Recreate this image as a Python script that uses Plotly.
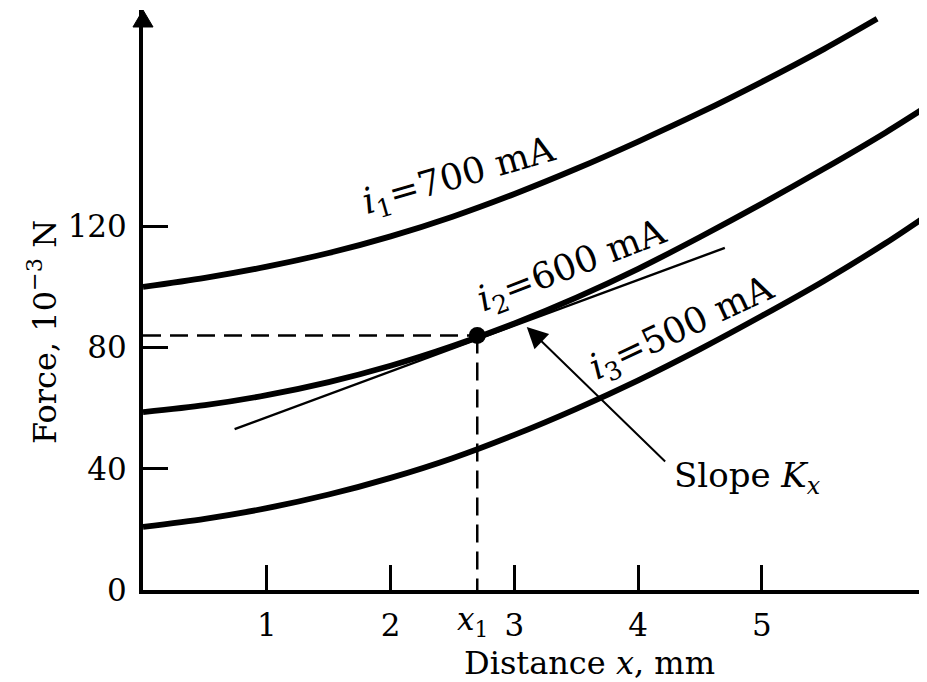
import plotly.graph_objects as go

# ---- data ----
x_700 = [0, 0.5, 1, 1.5, 2, 2.5, 3, 3.5, 4, 4.5, 5, 5.5, 5.93]
f_700 = [100, 103, 106.7, 111.2, 116.7, 123.2, 130.7, 139, 148, 157.5, 167.7, 178.5, 188.5]

x_600 = [0, 0.5, 1, 1.5, 2, 2.5, 3, 3.5, 4, 4.5, 5, 5.5, 6, 6.33]
f_600 = [58.7, 61, 64.3, 68.6, 74, 80.5, 88, 96.5, 106, 116.5, 127.5, 139, 151, 159.5]

x_500 = [0, 0.5, 1, 1.5, 2, 2.5, 3, 3.5, 4, 4.5, 5, 5.5, 6, 6.33]
f_500 = [20.8, 23.5, 27, 31.5, 37, 43.5, 51.2, 59.8, 69.2, 79.5, 90.5, 102, 114.5, 123.5]

tangent_x = [0.74, 4.70]
tangent_f = [53.1, 112.9]

x1 = 2.70
f1 = 84.0

x_ticks = [1, 2, 3, 4, 5]
x_ticktext = ["1", "2", "3", "4", "5"]
y_ticks = [0, 40, 80, 120]
y_ticktext = ["0", "40", "80", "120"]

X_MAX = 6.333
Y_MAX = 191.4

FONT = "DejaVu Serif"
BLACK = "black"

fig = go.Figure()

curve_style = dict(color=BLACK, width=5.8, shape="spline", smoothing=0.8)
for xs, fs, name in [(x_700, f_700, "i1=700 mA"), (x_600, f_600, "i2=600 mA"), (x_500, f_500, "i3=500 mA")]:
    fig.add_trace(go.Scatter(x=xs, y=fs, mode="lines", line=curve_style, name=name,
                             showlegend=False, hoverinfo="skip"))

# tangent line (slope K_x)
fig.add_trace(go.Scatter(x=tangent_x, y=tangent_f, mode="lines",
                         line=dict(color=BLACK, width=2.4), showlegend=False, hoverinfo="skip"))

# dashed guide lines to operating point
fig.add_trace(go.Scatter(x=[0, x1], y=[f1, f1], mode="lines",
                         line=dict(color=BLACK, width=2.5, dash="18px,9px"),
                         showlegend=False, hoverinfo="skip", cliponaxis=False))
fig.add_trace(go.Scatter(x=[x1, x1], y=[f1, -2.5], mode="lines",
                         line=dict(color=BLACK, width=2.5, dash="18px,9px"),
                         showlegend=False, hoverinfo="skip", cliponaxis=False))
# operating point
fig.add_trace(go.Scatter(x=[x1], y=[f1], mode="markers",
                         marker=dict(color=BLACK, size=17),
                         showlegend=False, hoverinfo="skip"))

# curve labels
label_font = dict(family=FONT, size=36, color=BLACK)
for txt, lx, ly, ang in [
    ("<i>i</i><sub>1</sub>=700 mA", 2.56, 136.0, -16),
    ("<i>i</i><sub>2</sub>=600 mA", 3.47, 106.5, -21),
    ("<i>i</i><sub>3</sub>=500 mA", 4.36, 86.0, -25),
]:
    fig.add_annotation(x=lx, y=ly, xref="x", yref="y", text=txt, showarrow=False,
                       textangle=ang, font=label_font, xanchor="center", yanchor="middle")

# slope arrow
fig.add_annotation(x=3.10, y=86.8, ax=4.23, ay=41.9, xref="x", yref="y", axref="x", ayref="y",
                   text="", showarrow=True, arrowhead=2, arrowsize=2.1, arrowwidth=2, arrowcolor=BLACK)
fig.add_annotation(x=4.27, y=37, xref="x", yref="y", text="Slope <i>K</i><sub><i>x</i></sub>",
                   showarrow=False, xanchor="left", yanchor="middle",
                   font=dict(family=FONT, size=34, color=BLACK))

# x1 label on the axis
fig.add_annotation(x=x1, y=0, xref="x", yref="paper", text="<i>x</i><sub>1</sub>",
                   showarrow=False, xanchor="center", yanchor="top", yshift=-9, xshift=-5,
                   font=dict(family=FONT, size=31, color=BLACK))

# axis titles (placed off-centre as in the reference)
fig.add_annotation(x=0.570, y=0, xref="paper", yref="paper", text="Distance <i>x</i>, mm",
                   showarrow=False, xanchor="center", yanchor="middle", yshift=-73,
                   font=dict(family=FONT, size=32, color=BLACK))
fig.add_annotation(x=0, y=0.445, xref="paper", yref="paper", text="Force, 10<sup>−3</sup> N",
                   showarrow=False, xanchor="center", yanchor="middle", xshift=-101, textangle=-90,
                   font=dict(family=FONT, size=32, color=BLACK))

# arrowhead on the force axis
fig.add_shape(type="path", xref="paper", yref="paper",
              path="M -0.0128,0.9707 L 0,1 L 0.0128,0.9707 Z",
              fillcolor=BLACK, line=dict(color=BLACK, width=1))

fig.update_xaxes(range=[0, X_MAX], showgrid=False, zeroline=False,
                 showline=True, linecolor=BLACK, linewidth=4,
                 ticks="inside", ticklen=25, tickwidth=2.5, tickcolor=BLACK,
                 tickvals=x_ticks, ticktext=x_ticktext, ticklabelstandoff=5,
                 tickfont=dict(family=FONT, size=31, color=BLACK))
fig.update_yaxes(range=[0, Y_MAX], showgrid=False, zeroline=False,
                 showline=True, linecolor=BLACK, linewidth=4,
                 ticks="inside", ticklen=25, tickwidth=2.5, tickcolor=BLACK,
                 tickvals=y_ticks, ticktext=y_ticktext, ticklabelstandoff=6,
                 tickfont=dict(family=FONT, size=31, color=BLACK))

# page body has an 8px margin, so the figure is 8px smaller than the window
fig.update_layout(width=919, height=674, margin=dict(l=135, r=0, t=2, b=92),
                  paper_bgcolor="white", plot_bgcolor="white", showlegend=False)

fig.write_html("out.html")
